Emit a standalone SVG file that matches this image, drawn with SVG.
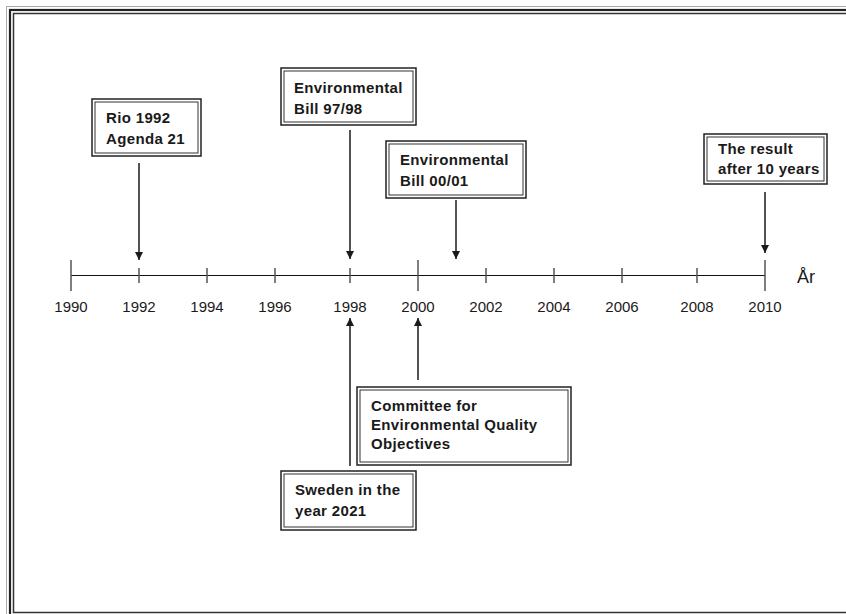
<svg xmlns="http://www.w3.org/2000/svg" width="846" height="614" viewBox="0 0 846 614">
<style>
.frame{fill:none}
.box{fill:#fff;stroke:#222;stroke-width:1.5}
.boxin{fill:none;stroke:#333;stroke-width:1}
.lbl{font-family:"Liberation Sans",Arial,sans-serif;font-weight:bold;font-size:15px;letter-spacing:0.35px;fill:#1a1a1a}
.yr{font-family:"Liberation Sans",Arial,sans-serif;font-size:15px;fill:#1a1a1a;text-anchor:middle}
.tick{stroke:#555;stroke-width:1.5}
.axis{stroke:#111;stroke-width:1.2}
.conn{stroke:#1a1a1a;stroke-width:1.5;fill:none}
</style>
<defs>
<marker id="ah" markerWidth="8" markerHeight="8" refX="8" refY="4" orient="auto" markerUnits="userSpaceOnUse">
<path d="M0,0 L8,4 L0,8 Z" fill="#1a1a1a"/>
</marker>
</defs>
<rect width="846" height="614" fill="#fff"/>
<g id="frame" class="frame">
<rect x="6.5" y="6.5" width="900" height="700" stroke="#aaa" stroke-width="1"/>
<rect x="10" y="10" width="900" height="606" stroke="#222" stroke-width="2.2"/>
<rect x="13.5" y="13.5" width="900" height="599" stroke="#333" stroke-width="1.5"/>
</g>
<g id="axis">
<line class="axis" x1="71" y1="275.5" x2="765" y2="275.5"/>
<line class="tick" x1="71" y1="260" x2="71" y2="291"/>
<line class="tick" x1="139" y1="268" x2="139" y2="283"/>
<line class="tick" x1="207" y1="268" x2="207" y2="283"/>
<line class="tick" x1="275" y1="268" x2="275" y2="283"/>
<line class="tick" x1="350" y1="268" x2="350" y2="283"/>
<line class="tick" x1="418" y1="260" x2="418" y2="291"/>
<line class="tick" x1="486" y1="268" x2="486" y2="283"/>
<line class="tick" x1="554" y1="268" x2="554" y2="283"/>
<line class="tick" x1="622" y1="268" x2="622" y2="283"/>
<line class="tick" x1="697" y1="268" x2="697" y2="283"/>
<line class="tick" x1="765" y1="260" x2="765" y2="291"/>
<text class="yr" x="71" y="312">1990</text>
<text class="yr" x="139" y="312">1992</text>
<text class="yr" x="207" y="312">1994</text>
<text class="yr" x="275" y="312">1996</text>
<text class="yr" x="350" y="312">1998</text>
<text class="yr" x="418" y="312">2000</text>
<text class="yr" x="486" y="312">2002</text>
<text class="yr" x="554" y="312">2004</text>
<text class="yr" x="622" y="312">2006</text>
<text class="yr" x="697" y="312">2008</text>
<text class="yr" x="765" y="312">2010</text>
<text x="797" y="283" font-family="'Liberation Sans',Arial,sans-serif" font-size="18" fill="#1a1a1a">År</text>
</g>
<g id="connectors">
<line class="conn" x1="139" y1="163" x2="139" y2="260" marker-end="url(#ah)"/>
<line class="conn" x1="350" y1="130" x2="350" y2="259" marker-end="url(#ah)"/>
<line class="conn" x1="456" y1="200" x2="456" y2="259" marker-end="url(#ah)"/>
<line class="conn" x1="765" y1="192" x2="765" y2="253" marker-end="url(#ah)"/>
<line class="conn" x1="418" y1="380" x2="418" y2="318" marker-end="url(#ah)"/>
<line class="conn" x1="350" y1="466" x2="350" y2="318" marker-end="url(#ah)"/>
</g>
<g id="rio">
<rect class="box" x="92" y="99" width="109" height="57"/>
<rect class="boxin" x="95" y="102" width="103" height="51"/>
<text class="lbl" x="106" y="123">Rio 1992</text>
<text class="lbl" x="106" y="144">Agenda 21</text>
</g>
<g id="bill9798">
<rect class="box" x="281" y="68" width="135" height="57"/>
<rect class="boxin" x="284" y="71" width="129" height="51"/>
<text class="lbl" x="294" y="93">Environmental</text>
<text class="lbl" x="294" y="114">Bill 97/98</text>
</g>
<g id="bill0001">
<rect class="box" x="386" y="141" width="140" height="57"/>
<rect class="boxin" x="389" y="144" width="134" height="51"/>
<text class="lbl" x="400" y="165">Environmental</text>
<text class="lbl" x="400" y="186">Bill 00/01</text>
</g>
<g id="result">
<rect class="box" x="704" y="134" width="123" height="50"/>
<rect class="boxin" x="707" y="137" width="117" height="44"/>
<text class="lbl" x="718" y="154">The result</text>
<text class="lbl" x="718" y="174">after 10 years</text>
</g>
<g id="committee">
<rect class="box" x="357" y="387" width="214" height="78"/>
<rect class="boxin" x="360" y="390" width="208" height="72"/>
<text class="lbl" x="371" y="411">Committee for</text>
<text class="lbl" x="371" y="430">Environmental Quality</text>
<text class="lbl" x="371" y="449">Objectives</text>
</g>
<g id="sweden">
<rect class="box" x="281" y="471" width="135" height="59"/>
<rect class="boxin" x="284" y="474" width="129" height="53"/>
<text class="lbl" x="295" y="495">Sweden in the</text>
<text class="lbl" x="295" y="516">year 2021</text>
</g>
</svg>
